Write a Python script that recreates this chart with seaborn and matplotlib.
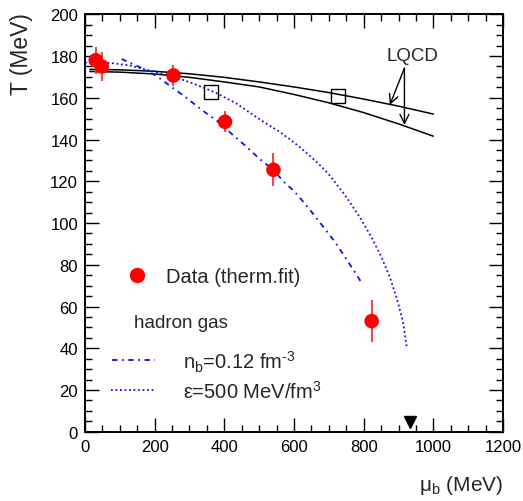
import numpy as np
import pandas as pd
import matplotlib
matplotlib.use('Agg')
import matplotlib.pyplot as plt
import seaborn as sns
from matplotlib.ticker import MultipleLocator

sns.set_style('ticks')
plt.rcParams['font.family'] = ['Liberation Sans', 'DejaVu Sans']
plt.rcParams['mathtext.fontset'] = 'custom'
plt.rcParams['mathtext.rm'] = 'Liberation Sans'
plt.rcParams.update({
    'xtick.direction': 'in', 'ytick.direction': 'in',
    'xtick.top': True, 'ytick.right': True,
    'xtick.major.size': 10, 'ytick.major.size': 10,
    'xtick.minor.size': 5, 'ytick.minor.size': 5,
    'xtick.major.width': 1.0, 'ytick.major.width': 1.0,
    'xtick.minor.width': 1.0, 'ytick.minor.width': 1.0,
    'xtick.color': 'black', 'ytick.color': 'black',
    'xtick.minor.visible': True, 'ytick.minor.visible': True,
})

# data points from thermal fits
mu_data = [31, 48, 254, 402, 541, 823]
T_data = [178, 175, 170.7, 148.5, 125.5, 53]
T_err = [6.5, 7, 5, 5, 8, 10]

# lattice QCD points (open squares)
mu_sq = [361, 727]
T_sq = [162.7, 161]

# LQCD curves
mu_lqcd = [14, 100, 200, 300, 400, 500, 600, 700, 800, 900, 1000]
T_lqcd_a = [173.6, 173.4, 172.7, 171.5, 169.8, 167.6, 165.2, 162.5, 159.4, 156.0, 152.2]
T_lqcd_b = [172.6, 172.3, 171.4, 169.8, 167.6, 165.2, 161.6, 157.6, 152.9, 147.5, 141.6]

# hadron gas: n_b = 0.12 fm^-3
mu_nb = [105, 158, 206, 249, 292, 335, 378, 421, 460, 498, 541, 575, 599, 618, 651, 685, 718, 747, 778, 792]
T_nb = [178.6, 174.6, 170.4, 165.1, 159.9, 154.2, 149.1, 142.7, 137.1, 131.2, 125.3, 119.0,
        115.5, 111.9, 105.2, 98.0, 90.8, 83.6, 75.6, 71.9]

# hadron gas: eps = 500 MeV/fm^3
mu_eps = [0, 72, 129, 196, 254, 321, 378, 436, 479, 517, 553, 587, 620, 651, 680, 699, 714,
          752, 790, 823, 852, 876, 895, 913, 924]
T_eps = [177.0, 176.7, 175.5, 172.6, 170.2, 166.2, 162.2, 157.1, 152.2, 148.0, 144.3, 140.3,
         135.9, 131.4, 126.8, 123.5, 120.4, 112.0, 102.5, 93.0, 83.3, 73.6, 64.0, 52.6, 40.4]

# nucleon mass marker
mu_tri = [932]
T_tri = [4.6]

dash_dot = (0, (3, 2.5, 1, 2.5))
dotted = (0, (1, 1.5))
blue = '#1010ee'

fig = plt.figure(figsize=(5.23, 5.02), dpi=100)
ax = fig.add_axes([0.1625, 0.138, 0.7993, 0.8315])

df_a = pd.DataFrame({'mu': mu_lqcd, 'T': T_lqcd_a})
df_b = pd.DataFrame({'mu': mu_lqcd, 'T': T_lqcd_b})
sns.lineplot(data=df_a, x='mu', y='T', ax=ax, color='black', lw=1.1, sort=False, estimator=None)
sns.lineplot(data=df_b, x='mu', y='T', ax=ax, color='black', lw=1.1, sort=False, estimator=None)

df_nb = pd.DataFrame({'mu': mu_nb, 'T': T_nb})
df_eps = pd.DataFrame({'mu': mu_eps, 'T': T_eps})
sns.lineplot(data=df_nb, x='mu', y='T', ax=ax, color=blue, lw=1.3,
             linestyle=dash_dot, sort=False, estimator=None)
sns.lineplot(data=df_eps, x='mu', y='T', ax=ax, color=blue, lw=1.3,
             linestyle=dotted, sort=False, estimator=None)

# squares
ax.plot(mu_sq, T_sq, 's', ms=10, mfc='none', mec='black', mew=1.0, zorder=4)

# data with errors
ax.errorbar(mu_data, T_data, yerr=T_err, fmt='none', ecolor='#f04848', elinewidth=1.5, zorder=5)
sns.scatterplot(x=mu_data, y=T_data, ax=ax, color='red', s=110, edgecolor='none', zorder=6)

# triangle
ax.plot(mu_tri, T_tri, 'v', color='black', ms=9, zorder=6)

# LQCD label and arrows
ax.text(939, 177.9, 'LQCD', ha='center', va='baseline', fontsize=13.5)
arrow = dict(arrowstyle='->', lw=1.0, color='black', mutation_scale=16, shrinkA=0, shrinkB=0)
ax.annotate('', xy=(875, 156.6), xytext=(917, 174.2), arrowprops=arrow)
ax.annotate('', xy=(917, 147.0), xytext=(917, 174.2), arrowprops=arrow)

# hand-made legend
tr = ax.transAxes
ax.plot([0.125], [0.375], 'o', color='red', ms=10, transform=tr, clip_on=False)
ax.text(0.194, 0.358, 'Data (therm.fit)', transform=tr, fontsize=14.5, va='baseline')
ax.text(0.118, 0.2515, 'hadron gas', transform=tr, fontsize=13.5, va='baseline')
ax.plot([0.064, 0.1675], [0.1715, 0.1715], color=blue, lw=1.3, linestyle=dash_dot, transform=tr)
ax.text(0.235, 0.152, 'n$_\\mathregular{b}$=0.12 fm$^\\mathregular{\u2010 3}$', transform=tr,
        fontsize=14.5, va='baseline')
ax.plot([0.0625, 0.1675], [0.1005, 0.1005], color=blue, lw=1.3, linestyle=dotted, transform=tr)
ax.text(0.235, 0.082, 'ε=500 MeV/fm$^\\mathregular{3}$', transform=tr, fontsize=14.5, va='baseline')

ax.set_xlim(0, 1200)
ax.set_ylim(0, 200)
ax.xaxis.set_major_locator(MultipleLocator(200))
ax.xaxis.set_minor_locator(MultipleLocator(50))
ax.yaxis.set_major_locator(MultipleLocator(20))
ax.yaxis.set_minor_locator(MultipleLocator(5))
ax.tick_params(which='both', direction='in', top=True, right=True, bottom=True, left=True,
               color='black', labelsize=12)
ax.tick_params(which='major', length=10, width=1.0, pad=5)
ax.tick_params(which='minor', length=5, width=1.0)
for sp in ax.spines.values():
    sp.set_linewidth(1.4)
    sp.set_color('black')

ax.set_ylabel('T (MeV)', fontsize=16.5, loc='top')
ax.yaxis.set_label_coords(-0.125, 1.005)
ax.set_xlabel('μ$_\\mathregular{b}$ (MeV)', fontsize=15, loc='right')
ax.xaxis.set_label_coords(1.0, -0.1)

fig.savefig('out.png', dpi=100)
